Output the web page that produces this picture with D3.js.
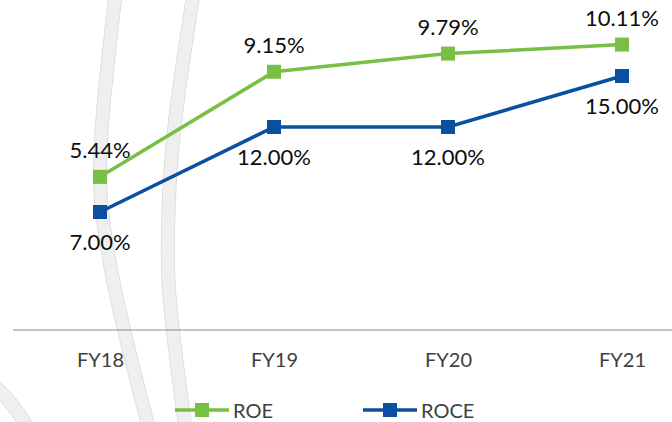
<!DOCTYPE html>
<html>
<head>
<meta charset="utf-8">
<script src="https://cdn.jsdelivr.net/npm/d3@7"></script>
<style>
  body { margin: 0; background: #fff; }
  svg { display: block; font-family: Lato, "Open Sans", sans-serif; }
</style>
</head>
<body>
<script>
var years = ["FY18", "FY19", "FY20", "FY21"];
var roe = [5.44, 9.15, 9.79, 10.11];
var roce = [7.00, 12.00, 12.00, 15.00];
var seriesNames = ["ROE", "ROCE"];
var seriesColors = ["#77BF45", "#0B50A0"];

var W = 672, H = 422;

var svg = d3.select("body").append("svg")
  .attr("width", W)
  .attr("height", H);

// background swooshes (decoration from the slide)
var swoosh = d3.line().curve(d3.curveCatmullRom);
var bgArcs = [
  [[116, -10], [101, 140], [101, 200], [113, 280], [148, 425]],
  [[194, -10], [173, 140], [168, 230], [169, 290], [185, 425]],
  [[-10, 382], [10, 402], [28, 428]]
];
bgArcs.forEach(function(pts) {
  svg.append("path")
    .attr("d", swoosh(pts))
    .attr("fill", "none")
    .attr("stroke", "#d9d9d9")
    .attr("stroke-width", 14);
  svg.append("path")
    .attr("d", swoosh(pts))
    .attr("fill", "none")
    .attr("stroke", "#efefef")
    .attr("stroke-width", 12.5);
});

var x = d3.scalePoint()
  .domain(years)
  .range([100, 622]);

var yRoe = d3.scaleLinear().domain([0, 12]).range([331, -9]);
var yRoce = d3.scaleLinear().domain([0, 20]).range([331, -9]);

// category axis
var xAxis = svg.append("g")
  .attr("transform", "translate(0,330)")
  .call(d3.axisBottom(x).tickSize(0).tickPadding(23));
xAxis.select(".domain").remove();
svg.append("line")
  .attr("x1", 13).attr("x2", W)
  .attr("y1", 330).attr("y2", 330)
  .attr("stroke", "#8c8c8c")
  .attr("stroke-width", 1.2);
xAxis.selectAll("text")
  .attr("font-family", "Lato, sans-serif")
  .attr("font-size", 20)
  .attr("fill", "#404040");

function drawSeries(vals, yScale, color, above) {
  var line = d3.line()
    .x(function(d, i) { return x(years[i]); })
    .y(function(d) { return yScale(d); });

  svg.append("path")
    .datum(vals)
    .attr("d", line)
    .attr("fill", "none")
    .attr("stroke", color)
    .attr("stroke-width", 3.5);

  svg.selectAll(null)
    .data(vals)
    .enter().append("rect")
    .attr("x", function(d, i) { return x(years[i]) - 7; })
    .attr("y", function(d) { return yScale(d) - 7; })
    .attr("width", 14)
    .attr("height", 14)
    .attr("fill", color);

  svg.selectAll(null)
    .data(vals)
    .enter().append("text")
    .attr("x", function(d, i) { return x(years[i]); })
    .attr("y", function(d) { return yScale(d) + (above ? -19 : 38); })
    .attr("text-anchor", "middle")
    .attr("font-size", 22)
    .attr("fill", "#0d0d0d")
    .text(function(d) { return d.toFixed(2) + "%"; })
    .each(function() {
      // keep labels inside the plot like Excel does
      var bb = this.getBBox();
      if (bb.x + bb.width > W) {
        d3.select(this).attr("x", W - bb.width / 2);
      }
    });
}

drawSeries(roce, yRoce, seriesColors[1], false);
drawSeries(roe, yRoe, seriesColors[0], true);

// legend
var legendX = [175, 363];
seriesNames.forEach(function(name, i) {
  var g = svg.append("g").attr("transform", "translate(" + legendX[i] + ",410)");
  g.append("line")
    .attr("x1", 0).attr("x2", 54)
    .attr("stroke", seriesColors[i])
    .attr("stroke-width", 3.5);
  g.append("rect")
    .attr("x", 20).attr("y", -7)
    .attr("width", 14).attr("height", 14)
    .attr("fill", seriesColors[i]);
  g.append("text")
    .attr("x", 58).attr("y", 7.5)
    .attr("font-size", 20)
    .attr("fill", "#404040")
    .text(name);
});
</script>
</body>
</html>
